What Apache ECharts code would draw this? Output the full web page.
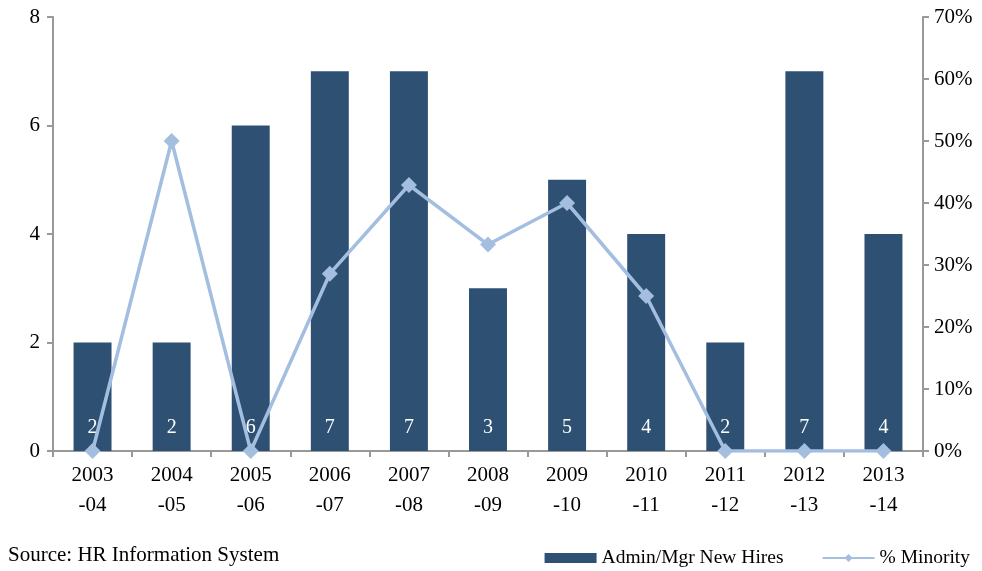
<!DOCTYPE html>
<html><head><meta charset="utf-8">
<script src="https://cdn.jsdelivr.net/npm/echarts@6/dist/echarts.min.js"></script>
<style>html,body{margin:0;padding:0;background:#fff}#c{width:982px;height:571px}</style>
</head><body><div id="c"></div>
<script>
const categories = ['2003\n-04','2004\n-05','2005\n-06','2006\n-07','2007\n-08','2008\n-09','2009\n-10','2010\n-11','2011\n-12','2012\n-13','2013\n-14'];
const hires = [2,2,6,7,7,3,5,4,2,7,4];
const minorityPct = [0,50,0,28.6,42.9,33.3,40,25,0,0,0];
const leftTicks = [0,8,2];
const rightTicks = [0,70,10];

const font = '"Liberation Serif", "Times New Roman", serif';
const chart = echarts.init(document.getElementById('c'), null, {renderer:'canvas'});
chart.setOption({
  backgroundColor:'#fff',
  animation:false,
  textStyle:{fontFamily:font},
  grid:{left:53, right:59, top:17, bottom:120, containLabel:false},
  legend:{
    top:543, right:7, itemGap:38, itemWidth:52, itemHeight:10,
    textStyle:{fontFamily:font, fontSize:19.5, color:'#000'},
    data:[{name:'Admin/Mgr New Hires', icon:'rect'},{name:'% Minority'}]
  },
  graphic:[{type:'text', left:8, top:545, style:{text:'Source: HR Information System', font:'21px '+font, fill:'#000'}}],
  xAxis:{
    type:'category', data:categories,
    axisLine:{lineStyle:{color:'#999', width:2}},
    axisTick:{show:true, length:6, lineStyle:{color:'#999', width:2}},
    axisLabel:{color:'#000', fontSize:21, fontFamily:font, margin:9, lineHeight:30}
  },
  yAxis:[{
    type:'value', min:leftTicks[0], max:leftTicks[1], interval:leftTicks[2],
    axisLine:{show:true, lineStyle:{color:'#999', width:2}},
    axisTick:{show:true, length:6, lineStyle:{color:'#999', width:2}},
    splitLine:{show:false},
    axisLabel:{color:'#000', fontSize:21, fontFamily:font, margin:13}
  },{
    type:'value', min:rightTicks[0], max:rightTicks[1], interval:rightTicks[2],
    axisLine:{show:true, lineStyle:{color:'#999', width:2}},
    axisTick:{show:true, length:6, lineStyle:{color:'#999', width:2}},
    splitLine:{show:false},
    axisLabel:{color:'#000', fontSize:21, fontFamily:font, margin:11, formatter:'{value}%'}
  }],
  series:[{
    name:'Admin/Mgr New Hires', type:'bar', data:hires, barWidth:'48%',
    itemStyle:{color:'#2E5073'},
    label:{show:true, position:'insideBottom', distance:13, color:'#fff', fontSize:20, fontFamily:font}
  },{
    name:'% Minority', type:'line', yAxisIndex:1, data:minorityPct,
    symbol:'diamond', symbolSize:16,
    lineStyle:{color:'#A3BEDF', width:3.5},
    itemStyle:{color:'#A3BEDF'}
  }]
});
</script></body></html>
